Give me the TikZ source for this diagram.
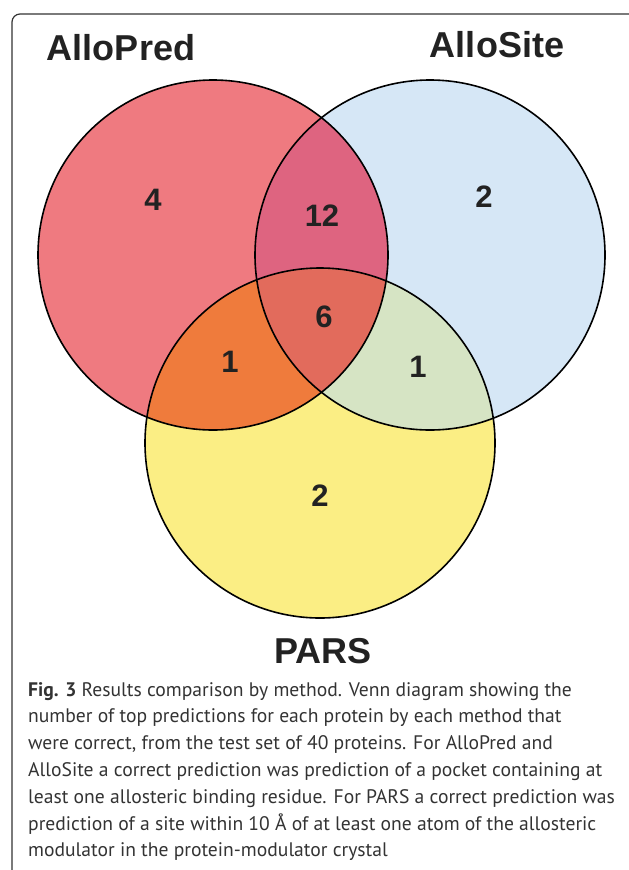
\documentclass[tikz,border=0pt]{standalone}
\usepackage{fontspec}
\setmainfont{Liberation Sans}
\newfontfamily\capfont{PT Sans}
\definecolor{predred}{HTML}{EF7A80}
\definecolor{siteblue}{HTML}{D6E7F6}
\definecolor{parsyellow}{HTML}{FBEE84}
\definecolor{predsite}{HTML}{DE6480}
\definecolor{predpars}{HTML}{EF7B3C}
\definecolor{sitepars}{HTML}{D6E4C4}
\definecolor{allthree}{HTML}{E26B5C}
\definecolor{inkgray}{HTML}{222222}
\definecolor{framegray}{HTML}{333333}
\tikzset{
  setlabel/.style={inner sep=0pt, text=inkgray, font=\fontsize{36}{40}\selectfont\bfseries},
  countlabel/.style={inner sep=0pt, text=inkgray, font=\fontsize{31}{34}\selectfont\bfseries},
  capline/.style={anchor=base west, inner sep=0pt, text=framegray, font=\capfont\fontsize{19.6}{26}\selectfont},
  rim/.style={draw=black, line width=1.6pt}
}
\begin{document}
\begin{tikzpicture}[x=1pt, y=-1pt]
\useasboundingbox (0,0) rectangle (629,870);
	%% Rahmen
	\draw[framegray, line width=1.2pt, rounded corners=8pt] (629,14) -- (12,14) -- (12,870);

	%% Kreise
	\coordinate (pred) at (213,255);
	\coordinate (site) at (430,255);
	\coordinate (pars) at (320,443);
	\fill[predred] (pred) circle[radius=175pt];
	\fill[siteblue] (site) circle[radius=175pt];
	\fill[parsyellow] (pars) circle[radius=175pt];
	%%%%%%%%%%%%%%%%

	%% Schnittmengen
\begin{scope}
	\clip (pred) circle[radius=175pt];
	\fill[predsite] (site) circle[radius=175pt];
	\fill[predpars] (pars) circle[radius=175pt];
	\clip (site) circle[radius=175pt];
	\fill[allthree] (pars) circle[radius=175pt];
\end{scope}
\begin{scope}
	\clip (site) circle[radius=175pt];
	\fill[sitepars] (pars) circle[radius=175pt];
	\clip (pred) circle[radius=175pt];
	\fill[allthree] (pars) circle[radius=175pt];
\end{scope}
	\draw[rim] (pred) circle[radius=175pt];
	\draw[rim] (site) circle[radius=175pt];
	\draw[rim] (pars) circle[radius=175pt];
	%%%%%%%%%%%%%%%%

	%% Beschriftung
	\node[setlabel] (allopred) at (121,47.5) {AlloPred};
	\node[setlabel] (allosite) at (497,45) {AlloSite};
	\node[setlabel] (parsname) at (323,651) {PARS};
	\node[countlabel] (onlypred) at (153,200) {4};
	\node[countlabel] (onlysite) at (484,197) {2};
	\node[countlabel] (onlypars) at (320,496) {2};
	\node[countlabel] (predsitecount) at (322,216) {12};
	\node[countlabel] (allcount) at (324,317) {6};
	\node[countlabel] (predparscount) at (230,362) {1};
	\node[countlabel] (siteparscount) at (418,367) {1};

	%% Bildunterschrift
	\foreach \txt [count=\i] in {
		{\textbf{Fig. 3} Results comparison by method. Venn diagram showing the},
		{number of top predictions for each protein by each method that},
		{were correct, from the test set of 40 proteins. For AlloPred and},
		{AlloSite a correct prediction was prediction of a pocket containing at},
		{least one allosteric binding residue. For PARS a correct prediction was},
		{prediction of a site within 10 Å of at least one atom of the allosteric},
		{modulator in the protein-modulator crystal}}
		\node[capline] (capline\i) at (28,{696+26.8*(\i-1)}) {\txt};
\end{tikzpicture}
\end{document}
